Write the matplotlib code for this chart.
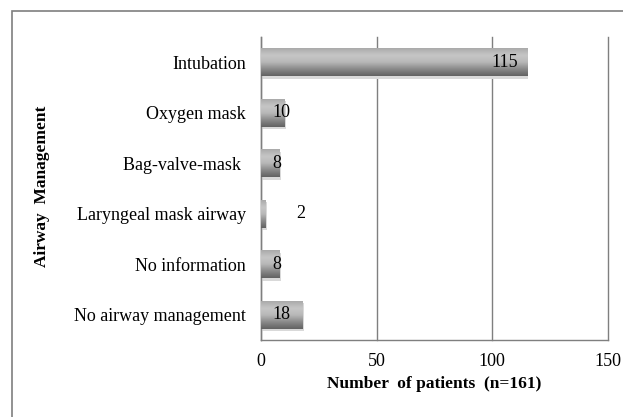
import matplotlib
matplotlib.use("Agg")
import matplotlib.pyplot as plt
import numpy as np
from matplotlib.colors import LinearSegmentedColormap
from matplotlib.patches import Rectangle

categories = ["Intubation", "Oxygen mask", "Bag-valve-mask ", "Laryngeal mask airway",
              "No information", "No airway management"]
values = [115, 10, 8, 2, 8, 18]
xticks = [0, 50, 100, 150]

plt.rcParams['font.family'] = ['Liberation Serif', 'DejaVu Serif']

fig = plt.figure(figsize=(6.23, 4.17), dpi=100)
W, H = 623, 417
ax = fig.add_axes([261 / W, 1 - 340 / H, (608 - 261) / W, (340 - 37) / H])

# outer frame (only top/left visible in the reference)
fig.patches.append(Rectangle((12 / W, -0.1), 1.2, 1 - 11 / H + 0.1, transform=fig.transFigure,
                             fill=False, edgecolor='#7f7f7f', linewidth=1.2, zorder=0))

n = len(categories)
ypos = np.arange(n)[::-1]
bh = 0.55
bars = ax.barh(ypos, values, height=bh, color='none', edgecolor='none', zorder=3)

cmap = LinearSegmentedColormap.from_list('g', ['#626262', '#8a8a8a', '#b8b8b8', '#c6c6c6', '#aaaaaa'])
grad = np.linspace(0, 1, 64).reshape(-1, 1)
for b in bars:
    x0, y0, w, h = b.get_x(), b.get_y(), b.get_width(), b.get_height()
    # shadow
    ax.add_patch(Rectangle((x0 + 0.6, y0 - 0.05), w, h, facecolor='#d9d9d9', edgecolor='none', zorder=2))
    ax.imshow(grad, extent=[x0, x0 + w, y0, y0 + h], origin='lower', cmap=cmap,
              aspect='auto', zorder=3, interpolation='bicubic')

for y, v in zip(ypos, values):
    if v >= 50:
        ax.text(v - 4, y, str(v), ha='right', va='center', fontsize=13, zorder=5)
    elif v >= 5:
        ax.text(min(v, 10) - 1, y, str(v), ha='center', va='center', fontsize=13, zorder=5)
    else:
        ax.text(v + 15, y, str(v), ha='center', va='center', fontsize=13, zorder=5)

ax.set_xlim(0, 150)
ax.set_ylim(-0.5, n - 0.5)
ax.set_xticks(xticks)
ax.set_yticks(ypos)
ax.set_yticklabels(categories)
ax.tick_params(axis='both', length=0, labelsize=13)
ax.tick_params(axis='x', pad=9)
ax.tick_params(axis='y', pad=11)
ax.grid(axis='x', color='#7f7f7f', linewidth=1.0, zorder=1)
for gl in ax.get_xgridlines():
    gl.set_clip_on(False)
ax.set_axisbelow(True)
for s in ['top', 'right']:
    ax.spines[s].set_visible(False)
for s in ['left', 'bottom']:
    ax.spines[s].set_color('#7f7f7f')
    ax.spines[s].set_linewidth(1.0)

ax.set_xlabel('Number  of patients  (n=161)', fontsize=12.5, fontweight='bold', labelpad=5)
fig.text(42 / W, 1 - 186 / H, 'Airway  Management', rotation=90, ha='center', va='center',
         fontsize=12.5, fontweight='bold')

fig.savefig('out.png', dpi=100)
